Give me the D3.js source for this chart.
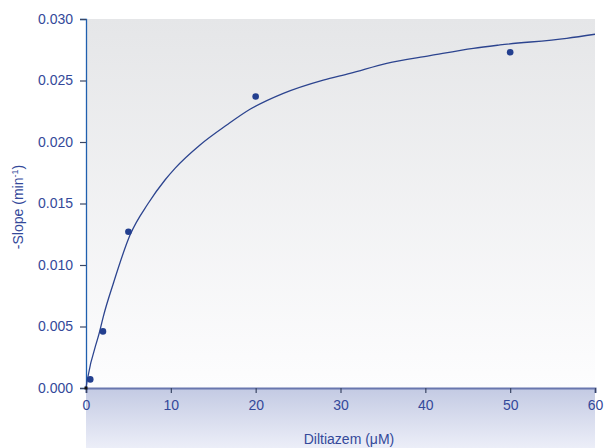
<!DOCTYPE html>
<html><head><meta charset="utf-8">
<script src="https://cdn.jsdelivr.net/npm/d3@7"></script>
<style>html,body{margin:0;padding:0;background:#fff;}svg{display:block;font-family:"Liberation Sans",Arial,sans-serif;}</style>
</head><body>
<svg id="c" width="604" height="448"></svg>
<script>
const xTicks = [0, 10, 20, 30, 40, 50, 60];
const yTicks = [0.000, 0.005, 0.010, 0.015, 0.020, 0.025, 0.030];
const pointX = [0.5, 2, 5, 20, 50];
const pointY = [0.0007, 0.0046, 0.0127, 0.0237, 0.0273];
const curveX = [0, 0.15, 1.65, 2.04, 3.22, 5.19, 7.34, 9.31, 10.49, 13.44, 16.59, 19.33, 23.26, 27.97, 31.12, 35.45, 40.55, 45.66, 48.8, 56.67, 60];
const curveY = [0, 0.00065, 0.0047, 0.0058, 0.0085, 0.01244, 0.01502, 0.01691, 0.01786, 0.01976, 0.02138, 0.02266, 0.02396, 0.02504, 0.02558, 0.0264, 0.02702, 0.02762, 0.02789, 0.02843, 0.02876];
const xTitle = "Diltiazem (μM)";

const svg = d3.select("#c");
const L = 86, R = 595, T = 19, B = 388;
const x = d3.scaleLinear().domain([0, 60]).range([L, R]);
const y = d3.scaleLinear().domain([0, 0.03]).range([B, T]);
const textCol = "#34499a";
const FS = 14;

const defs = svg.append("defs");
const g1 = defs.append("linearGradient").attr("id", "bgG").attr("x1", 0).attr("y1", 0).attr("x2", 0).attr("y2", 1);
g1.append("stop").attr("offset", "0%").attr("stop-color", "#e5e6e8");
g1.append("stop").attr("offset", "100%").attr("stop-color", "#fdfdfe");
const g2 = defs.append("linearGradient").attr("id", "btG").attr("x1", 0).attr("y1", 0).attr("x2", 0).attr("y2", 1);
g2.append("stop").attr("offset", "0%").attr("stop-color", "#c3cae3");
g2.append("stop").attr("offset", "100%").attr("stop-color", "#eceef8");

svg.append("rect").attr("x", L).attr("y", T).attr("width", R - L).attr("height", B - T).attr("fill", "url(#bgG)");
svg.append("rect").attr("x", L).attr("y", B).attr("width", R - L).attr("height", 448 - B).attr("fill", "url(#btG)");

// Y axis
const yAxis = d3.axisLeft(y).tickValues(yTicks).tickFormat(d3.format(".3f")).tickSize(6).tickPadding(7);
const ya = svg.append("g").attr("transform", `translate(${L},0)`).call(yAxis);
ya.select(".domain").attr("stroke", "#1f5fae").attr("stroke-width", 1.3);
ya.selectAll(".tick line").attr("stroke", "#3a4664").attr("stroke-width", 1.2);
ya.selectAll(".tick text").attr("fill", textCol).attr("font-size", FS).attr("font-family", "Liberation Sans, Arial, sans-serif");

// X axis
const xAxis = d3.axisBottom(x).tickValues(xTicks).tickFormat(d3.format("d")).tickSize(5).tickPadding(7);
const xa = svg.append("g").attr("transform", `translate(0,${B})`).call(xAxis);
xa.select(".domain").attr("stroke", "#6977ae").attr("stroke-width", 2);
xa.selectAll(".tick line").attr("stroke", "#3a4664").attr("stroke-width", 1.2);
xa.selectAll(".tick text").attr("fill", textCol).attr("font-size", FS).attr("font-family", "Liberation Sans, Arial, sans-serif");

// curve
const line = d3.line().x((d, i) => x(curveX[i])).y((d, i) => y(curveY[i])).curve(d3.curveMonotoneX);
svg.append("path").datum(curveX).attr("d", line).attr("fill", "none").attr("stroke", "#2c448f").attr("stroke-width", 1.3);

// points
svg.selectAll("circle.pt").data(pointX).join("circle").attr("class", "pt")
  .attr("cx", d => x(d)).attr("cy", (d, i) => y(pointY[i])).attr("r", 3.3).attr("fill", "#233f8f");

// origin marker
svg.append("rect").attr("x", L - 1.5).attr("y", B - 1.5).attr("width", 3).attr("height", 3).attr("fill", "#111");

// titles
svg.append("text").attr("x", 349).attr("y", 444).attr("text-anchor", "middle").attr("fill", textCol).attr("font-size", FS).text(xTitle);
const yt = svg.append("text").attr("transform", "translate(23,207) rotate(-90)").attr("text-anchor", "middle").attr("fill", textCol).attr("font-size", FS);
yt.append("tspan").text("-Slope (min");
yt.append("tspan").attr("dy", -5).attr("font-size", 9).text("-1");
yt.append("tspan").attr("dy", 5).text(")");
</script>
</body></html>
